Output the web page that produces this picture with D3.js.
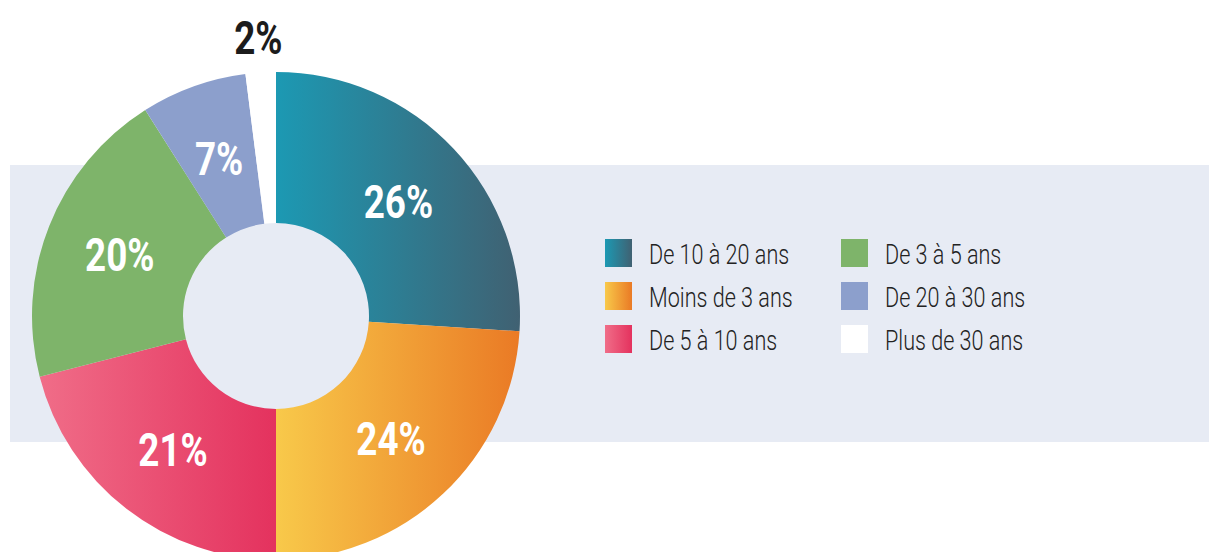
<!DOCTYPE html>
<html>
<head>
<meta charset="utf-8">
<script src="https://d3js.org/d3.v7.min.js"></script>
<style>
  body { margin: 0; background: #fff; }
  svg { display: block; }
</style>
</head>
<body>
<svg id="drawing_region"></svg>
<script>
// data
const categories = ["De 10 à 20 ans", "Moins de 3 ans", "De 5 à 10 ans", "De 3 à 5 ans", "De 20 à 30 ans", "Plus de 30 ans"];
const values = [26, 24, 21, 20, 7, 2];
const labels = ["26%", "24%", "21%", "20%", "7%", "2%"];
// left / right colour of each slice (horizontal gradient)
const colorsLeft  = ["#1c99b3", "#f8c94a", "#f06d88", "#7eb46a", "#8c9fcc", "#ffffff"];
const colorsRight = ["#406172", "#ea7a25", "#e4325e", "#7eb46a", "#8c9fcc", "#ffffff"];

const data = categories.map((c, i) => ({
    label: c, value: values[i], text: labels[i], c0: colorsLeft[i], c1: colorsRight[i], idx: i
}));

class DonutChart {
    constructor( config, data ) {
        this.config = {
            parent: config.parent,
            width: config.width,
            height: config.height,
            cx: config.cx, cy: config.cy,
            radius: config.radius,
            inner: config.inner
        };
        this.data = data;
        this.init();
    }

    init() {
        let self = this;
        self.svg = d3.select( self.config.parent )
            .attr('width', self.config.width)
            .attr('height', self.config.height);

        self.defs = self.svg.append('defs');

        // light band behind the chart
        self.svg.append('rect')
            .attr('x', 10).attr('y', 165)
            .attr('width', self.config.width - 10)
            .attr('height', 277)
            .attr('fill', '#e7ebf4');

        self.chart = self.svg.append('g')
            .attr('transform', `translate(${self.config.cx}, ${self.config.cy})`);

        self.pie = d3.pie().sort(null).value(d => d.value);
        self.arc = d3.arc().innerRadius(self.config.inner).outerRadius(self.config.radius);
        self.labelArc = d3.arc().innerRadius(168).outerRadius(168);
        self.outerLabelArc = d3.arc().innerRadius(280).outerRadius(280);
    }

    render() {
        let self = this;

        self.defs.selectAll('linearGradient')
            .data(self.data)
            .join('linearGradient')
            .attr('id', d => 'grad' + d.idx)
            .attr('x1', 0).attr('x2', 1).attr('y1', 0).attr('y2', 0)
            .each(function(d) {
                const g = d3.select(this);
                g.append('stop').attr('offset', '0%').attr('stop-color', d.c0);
                g.append('stop').attr('offset', '100%').attr('stop-color', d.c1);
            });

        const arcs = self.pie(self.data);

        self.chart.selectAll('path.slice')
            .data(arcs)
            .join('path')
            .attr('class', 'slice')
            .attr('d', self.arc)
            .attr('fill', d => `url(#grad${d.data.idx})`);

        const small = d => d.data.value < 5;

        self.chart.selectAll('text.pct')
            .data(arcs)
            .join('text')
            .attr('class', 'pct')
            .attr('transform', d => {
                const p = small(d) ? self.outerLabelArc.centroid(d) : self.labelArc.centroid(d);
                return `translate(${p[0]}, ${p[1] + 17}) scale(0.8, 1)`;
            })
            .attr('text-anchor', 'middle')
            .attr('font-family', 'Roboto, "DejaVu Sans", sans-serif')
            .attr('font-weight', 700)
            .attr('font-size', '46px')
            .attr('fill', d => small(d) ? '#1c1c1c' : '#ffffff')
            .text(d => d.data.text);

        // legend: 2 columns x 3 rows
        const row = d3.scaleLinear().domain([0, 2]).range([239, 325]);
        const col = d3.scaleOrdinal().domain([0, 1]).range([605, 841]);

        const leg = self.svg.append('g').selectAll('g')
            .data(self.data)
            .join('g')
            .attr('transform', (d, i) => `translate(${col(Math.floor(i / 3))}, ${row(i % 3)})`);

        leg.append('rect')
            .attr('width', 27).attr('height', 28)
            .attr('fill', d => `url(#grad${d.idx})`);

        leg.append('text')
            .attr('transform', 'translate(44, 25) scale(0.8, 1)')
            .attr('font-family', 'Roboto, "DejaVu Sans", sans-serif')
            .attr('font-weight', 300)
            .attr('font-size', '27px')
            .attr('fill', '#222222')
            .text(d => d.label);
    }
}

const chart = new DonutChart({
    parent: '#drawing_region',
    width: 1209, height: 552,
    cx: 276, cy: 316,
    radius: 244, inner: 93
}, data);
chart.render();
</script>
</body>
</html>
